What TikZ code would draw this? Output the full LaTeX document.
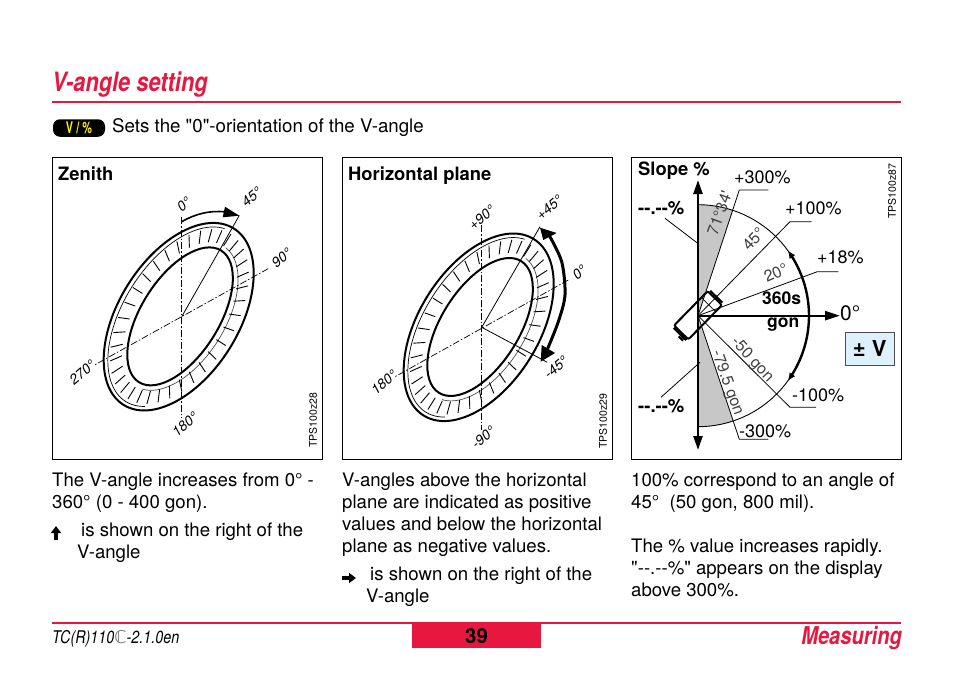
\documentclass[tikz,border=0pt]{standalone}
\usepackage{fontspec}
\setmainfont[Ligatures=TeXOff]{TeX Gyre Heros}
\newfontfamily\condfont[FakeStretch=0.82]{TeX Gyre Heros}
\newfontfamily\keyfont[FakeStretch=0.68]{TeX Gyre Heros}
\newfontfamily\symfont{DejaVu Sans}
\usetikzlibrary{arrows.meta}
\definecolor{pagered}{HTML}{E8173F}
\definecolor{wedgegray}{gray}{0.78}
\definecolor{boxblue}{HTML}{DDF0FB}
\tikzset{
  bodytext/.style={anchor=north west, inner sep=0pt, align=left, font=\fontsize{18.6}{22}\selectfont},
  lbl/.style={anchor=base west, inner sep=0pt, font=\fontsize{18}{20}\selectfont},
  panellbl/.style={anchor=base west, inner sep=0pt, font=\fontsize{18.4}{20}\selectfont\bfseries},
  dial/.style={inner sep=0pt, font=\fontsize{14}{16}\selectfont\itshape, rotate=40},
  code/.style={inner sep=0pt, rotate=90, font=\fontsize{10.5}{12}\selectfont},
  slant/.style={inner sep=0pt, text=black!75, font=\fontsize{16}{18}\selectfont},
  panel/.style={line width=0.9pt},
  ringthick/.style={line width=2pt},
  ringthin/.style={line width=0.7pt},
  axisline/.style={line width=0.7pt, dash pattern=on 7pt off 2pt on 1.5pt off 2pt},
  leader/.style={line width=0.8pt}
}
\begin{document}
\begin{tikzpicture}[x=1pt, y=-1pt]
  \useasboundingbox (0,0) rectangle (954,677);

  % Header
  \node[anchor=base west, inner sep=0pt, text=pagered, font=\condfont\fontsize{26.6}{28}\selectfont\bfseries\itshape] (title) at (52,92) {V-angle setting};
  \draw[pagered, line width=2pt] (52,102) -- (901,102);
  \node[fill=black, rounded corners=7pt, minimum width=52pt, minimum height=17.5pt, inner sep=0pt, text=yellow, font=\keyfont\fontsize{16}{17}\selectfont\bfseries] (vkey) at (79,128) {V / \%};
  \node[lbl, font=\fontsize{18.7}{20}\selectfont] (sets) at (112,132) {Sets the "0"-orientation of the V-angle};

  % Frames
  \draw[panel] (52.5,157) rectangle (322,459);
  \draw[panel] (342,157) rectangle (612,459);
  \draw[panel] (631.5,157) rectangle (901,459);
  \node[panellbl] (zenith) at (58,180) {Zenith};
  \node[panellbl] (horiz) at (348,180) {Horizontal plane};
  \node[panellbl] (slope) at (638,175) {Slope \%};

  % Both dials
  \foreach \xC/\yC in {178.7/316.7, 478.7/327.3} {
    \begin{scope}[shift={(\xC,\yC)}, rotate=58]
      \draw[ringthick] (0,0) ellipse (104pt and 60pt);
      \draw[ringthick] (1,1) ellipse (77.6pt and 39pt);
      % thin lines next to the thick ones
      \draw[ringthin] plot[domain=-200:-8, samples=60] ({100*cos(\x)}, {55.5*sin(\x)});
      \draw[ringthin, black!70] plot[domain=3:172, samples=60] ({1+82.5*cos(\x)}, {1+45*sin(\x)});
      % ticks
      \foreach \tk in {0,10,...,350} {
        \draw[line width=0.9pt] ({0.5+(77.6+0.22*26)*cos(\tk)}, {0.5+(39+0.22*21)*sin(\tk)})
        -- ({0.5+(77.6+0.75*26)*cos(\tk)}, {0.5+(39+0.75*21)*sin(\tk)});
      }
    \end{scope}
  }

  % Zenith axes
  \coordinate (cz) at (181.7,316.7);
  \draw[axisline] (181.7,217) -- (181.7,418);
  \draw[axisline] (268.3,268.6) -- (95,364.7);
  \draw[line width=0.8pt] (cz) -- (239.3,215.5);
  \draw[line width=1.6pt] (181.7,221.7) .. controls (195,214) and (210,210) .. (226,212);
  \fill (225,206.7) -- (239.3,215.7) -- (222.7,217.3) -- cycle;
  \node[dial] (zA) at (184,204) {0°};
  \node[dial] (zB) at (251.7,196.7) {45°};
  \node[dial] (zC) at (281.7,258.3) {90°};
  \node[dial] (zD) at (82.3,372.3) {270°};
  \node[dial] (zE) at (185,424) {180°};
  \node[code] (zcode) at (313,420.5) {TPS100z28};

  % Horizontal plane axes
  \coordinate (ch) at (481.7,327.3);
  \draw[axisline] (481.7,225) -- (481.7,430);
  \draw[axisline] (568.3,280) -- (395,376.7);
  \draw[line width=0.8pt] (ch) -- (540,226.7);
  \draw[line width=0.8pt] (ch) -- (547.3,362.3);
  \draw[line width=3pt] plot[smooth] coordinates {(549,235) (561.7,261.7) (565,295) (558.3,321.7) (547.5,349)};
  \fill (540,227.7) -- (556.7,233) -- (543.3,240) -- cycle;
  \fill (540.7,361.7) -- (541.7,345) -- (555,353) -- cycle;
  \node[dial] (hA) at (481.7,217.7) {+90°};
  \node[dial] (hB) at (549.3,207.7) {+45°};
  \node[dial] (hC) at (579.3,272.3) {0°};
  \node[dial] (hD) at (556,367.7) {-45°};
  \node[dial] (hE) at (384,382.3) {180°};
  \node[dial] (hF) at (483.3,437.7) {-90°};
  \node[code] (hcode) at (603,421) {TPS100z29};

  % Slope
  \def \xO {698}
  \def \yO {315.7}
  \def \rS {111}
  \coordinate (cs) at (\xO,\yO);
  \fill[wedgegray] (cs) -- plot[domain=90:71.6] ({\xO+\rS*cos(\x)}, {\yO-\rS*sin(\x)}) -- cycle;
  \fill[wedgegray] (cs) -- plot[domain=-90:-71.6] ({\xO+\rS*cos(\x)}, {\yO-\rS*sin(\x)}) -- cycle;
  \draw[line width=0.9pt] plot[domain=-90:90, samples=60] ({\xO+\rS*cos(\x)}, {\yO-\rS*sin(\x)});
  \draw[arrows={Latex[length=8pt,width=7pt]-Latex[length=8pt,width=7pt]}, line width=2.4pt]
    plot[domain=-36:36, samples=30] ({\xO+\rS*cos(\x)}, {\yO-\rS*sin(\x)});
  % lines with their labels
  \draw[leader] (cs) -- (739.3,190) -- (768.3,190);
  \draw[leader] (cs) -- (790,221.7) -- (811.7,221.7);
  \draw[leader] (cs) -- (817.3,271.7) -- (838.3,271.7);
  \draw[leader] (cs) -- (790,407.3) -- (816,407.3);
  \draw[leader] (cs) -- (739.3,439.3) -- (768.3,439.3);
  \draw[leader] (665,218.3) -- (697.7,243.3);
  \draw[leader] (661,397.3) -- (700,362.3);
  \draw[arrows={Triangle[length=14pt,width=9pt]-Triangle[length=14pt,width=9pt]}, line width=2.4pt] (\xO,180) -- (\xO,450);
  \draw[arrows=-{Triangle[length=15pt,width=9pt]}, line width=2.4pt] (cs) -- (840,\yO);

  % telescope
  \begin{scope}[shift={(698,315.3)}, rotate=45.6]
    \draw[line width=2pt, rounded corners=2pt] (-24,-10) rectangle (24,10);
    \draw[line width=0.7pt] (15,-10) -- (15,10);
    \draw[line width=2.2pt, rounded corners=1pt] (26,-8.5) -- (26,8.5);
    \draw[line width=2.2pt] (-26,-8.5) -- (-26,9);
    \draw[line width=2.2pt] (-28.5,1) -- (-28.5,7);
  \end{scope}

  \node[lbl] (pA) at (734,183) {+300\%};
  \node[lbl] (pB) at (785,214) {+100\%};
  \node[lbl] (pC) at (817,263) {+18\%};
  \node[lbl, font=\fontsize{17.5}{19}\selectfont\bfseries] (spd) at (762,304) {360s};
  \node[lbl, font=\fontsize{17.5}{19}\selectfont\bfseries] (gon) at (767,327) {gon};
  \node[lbl, font=\fontsize{21}{22}\selectfont] (zero) at (840,320) {0°};
  \node[lbl, font=\fontsize{18.5}{20}\selectfont\bfseries] (inftop) at (638,214) {-{}-.-{}-\%};
  \node[lbl, font=\fontsize{18.5}{20}\selectfont\bfseries] (infbot) at (638,412) {-{}-.-{}-\%};
  \node[lbl] (mA) at (792,401) {-100\%};
  \node[lbl] (mB) at (739,437) {-300\%};
  \node[slant, rotate=70] (aA) at (719.5,213) {71°34'};
  \node[slant, rotate=47] (aB) at (753.5,239) {45°};
  \node[slant, rotate=24] (aC) at (775.8,273) {20°};
  \node[slant, rotate=-47] (aD) at (752,360) {-50 gon};
  \node[slant, rotate=-70] (aE) at (727,383) {-79.5 gon};
  \node[code] (scode) at (892,191) {TPS100z87};
  \node[draw=black!70, line width=0.7pt, fill=boxblue, minimum width=49pt, minimum height=32.5pt, inner sep=0pt, font=\fontsize{22}{23}\selectfont\bfseries] (vbox) at (869.6,348.6) {± V};

  % Text below the frames
  \node[bodytext] (tA) at (52,472.5) {The V-angle increases from 0° -\\360° (0 - 400 gon).};
  \draw[arrows=-{Triangle[length=7pt,width=10pt]}, line width=3.6pt] (56,540) -- (56,526);
  \node[bodytext] (tB) at (81,522.5) {is shown on the right of the};
  \node[bodytext] (tC) at (77,544.5) {V-angle};
  \node[bodytext] (tD) at (342,472.5) {V-angles above the horizontal\\plane are indicated as positive\\values and below the horizontal\\plane as negative values.};
  \draw[arrows=-{Triangle[length=7pt,width=10pt]}, line width=3.6pt] (342,578) -- (356,578);
  \node[bodytext] (tE) at (370,566.5) {is shown on the right of the};
  \node[bodytext] (tF) at (366,588.5) {V-angle};
  \node[bodytext] (tG) at (631,472.5) {100\% correspond to an angle of\\45°~~(50 gon, 800 mil).\\[22pt]The \% value increases rapidly.\\"-{}-.-{}-\%" appears on the display\\above 300\%.};

  % Footer
  \draw[pagered, line width=2pt] (52,622.5) -- (901,622.5);
  \node[fill=pagered, minimum width=129pt, minimum height=24pt, inner sep=0pt] (pagebox) at (476.5,636) {};
  \node[anchor=base, inner sep=0pt, font=\fontsize{20.5}{22}\selectfont\bfseries] (pagenum) at (476.5,643) {39};
  \node[anchor=base west, inner sep=0pt, font=\condfont\fontsize{17.5}{19}\selectfont\itshape] (doc) at (52,643) {TC(R)110{\symfont\color{black!55}ℂ}-2.1.0en};
  \node[anchor=base east, inner sep=0pt, text=pagered, font=\condfont\fontsize{24.5}{26}\selectfont\bfseries\itshape] (measuring) at (902,644) {Measuring};
\end{tikzpicture}
\end{document}
